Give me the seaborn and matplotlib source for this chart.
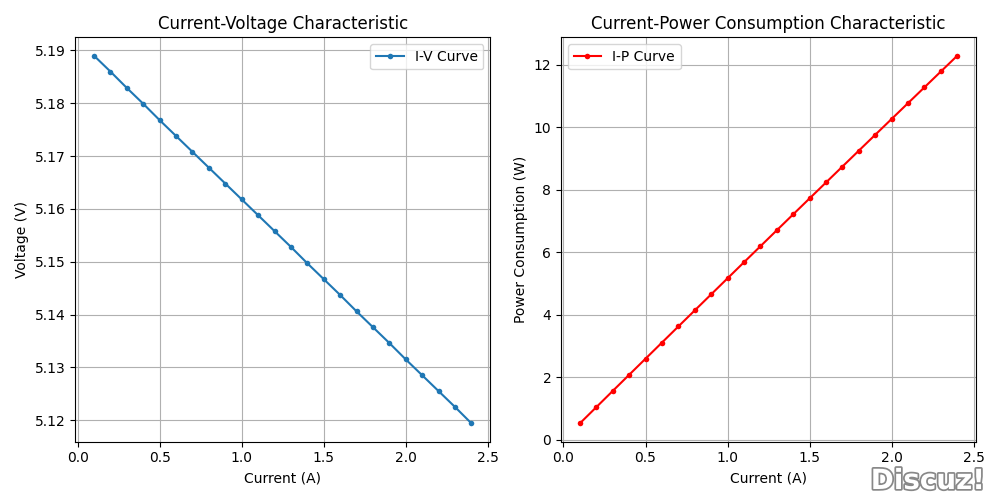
import matplotlib
matplotlib.use("Agg")
import matplotlib.pyplot as plt
import matplotlib.patheffects as pe
import seaborn as sns
import pandas as pd

current = [0.1, 0.2, 0.3, 0.4, 0.5, 0.6, 0.7, 0.8, 0.9, 1.0, 1.1, 1.2,
           1.3, 1.4, 1.5, 1.6, 1.7, 1.8, 1.9, 2.0, 2.1, 2.2, 2.3, 2.4]
voltage = [5.1890, 5.1860, 5.1829, 5.1799, 5.1768, 5.1738, 5.1708, 5.1678,
           5.1648, 5.1618, 5.1588, 5.1558, 5.1528, 5.1497, 5.1467, 5.1437,
           5.1406, 5.1376, 5.1346, 5.1315, 5.1285, 5.1255, 5.1225, 5.1194]
power = [0.519, 1.037, 1.555, 2.072, 2.588, 3.104, 3.620, 4.134, 4.648,
         5.162, 5.675, 6.187, 6.699, 7.210, 7.720, 8.230, 8.739, 9.248,
         9.756, 10.263, 10.770, 11.276, 11.782, 12.287]

df = pd.DataFrame({"current": current, "voltage": voltage, "power": power})

fig, axes = plt.subplots(1, 2, figsize=(10, 5), dpi=100)

ax = axes[0]
sns.lineplot(data=df, x="current", y="voltage", ax=ax, marker="o", markersize=4,
             markeredgewidth=0, color="#1f77b4", label="I-V Curve")
ax.set_title("Current-Voltage Characteristic")
ax.set_xlabel("Current (A)")
ax.set_ylabel("Voltage (V)")
ax.grid(True)
ax.legend(loc="upper right")

ax = axes[1]
sns.lineplot(data=df, x="current", y="power", ax=ax, marker="o", markersize=4,
             markeredgewidth=0, color="red", label="I-P Curve")
ax.set_title("Current-Power Consumption Characteristic")
ax.set_xlabel("Current (A)")
ax.set_ylabel("Power Consumption (W)")
ax.grid(True)
ax.legend(loc="upper left")

fig.tight_layout()
fig.text(0.985, 0.01, "Discuz!", ha="right", va="bottom", fontsize=20,
         fontweight="bold", color="white",
         path_effects=[pe.withStroke(linewidth=2.5, foreground="#888888")])
fig.savefig("out.png")
